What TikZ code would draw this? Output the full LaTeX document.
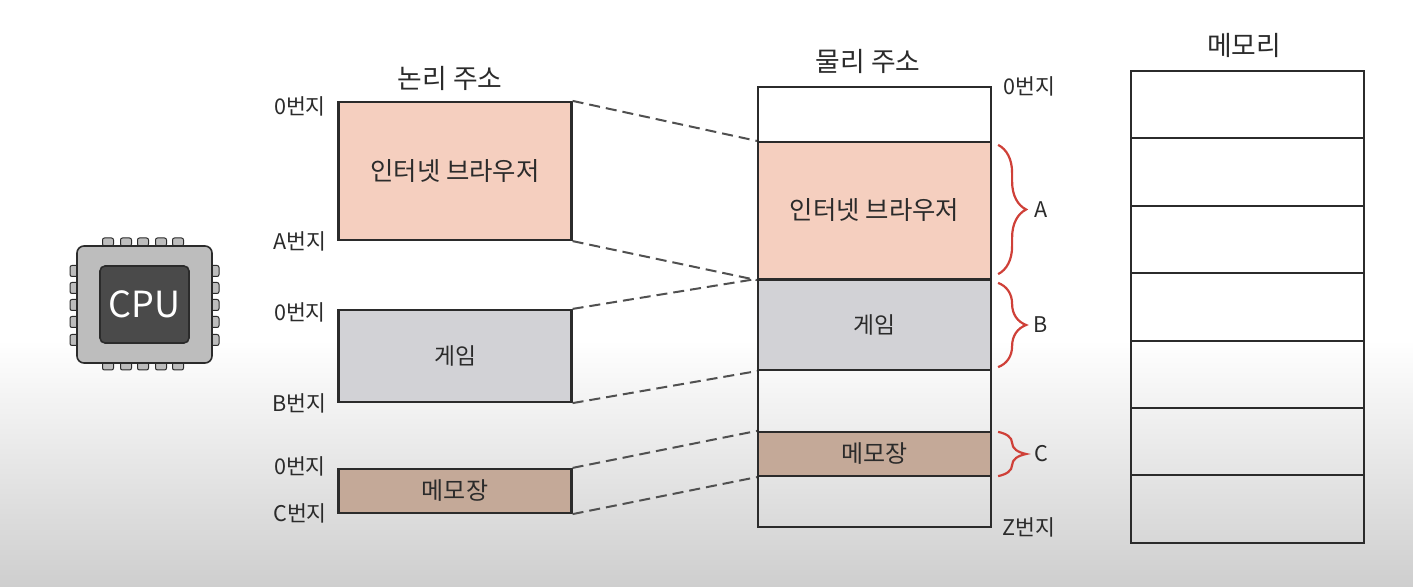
\documentclass[tikz,border=0pt]{standalone}
\usepackage{fontspec}
\setmainfont{Noto Sans CJK KR}
\usetikzlibrary{decorations.pathreplacing}
\definecolor{inkdark}{HTML}{2B2B2B}
\definecolor{dashgrey}{HTML}{505050}
\definecolor{browserpink}{HTML}{F5CFBF}
\definecolor{gamegrey}{HTML}{D2D2D6}
\definecolor{memobrown}{HTML}{C4A998}
\definecolor{bracered}{HTML}{CF4038}
\definecolor{cpugrey}{HTML}{BDBDBD}
\definecolor{cpudark}{HTML}{4A4A4A}
\definecolor{fadegrey}{HTML}{CECECE}
\tikzset{
  seg/.style={draw=inkdark,line width=1.1pt,minimum width=116.5pt,inner sep=0pt,font=\fontsize{11.4}{13}\selectfont,text=inkdark},
  longname/.style={font=\fontsize{12.7}{14}\selectfont},
  midname/.style={font=\fontsize{12}{14}\selectfont},
  cell/.style={draw=inkdark,line width=.65pt,minimum width=116.5pt,inner sep=0pt},
  addr/.style={font=\fontsize{10.8}{12}\selectfont,text=inkdark,inner sep=0pt},
  headline/.style={font=\fontsize{13.4}{15}\selectfont,text=inkdark,inner sep=0pt},
  link/.style={draw=dashgrey,line width=1pt,dash pattern=on 5.5pt off 3pt},
  curly/.style={draw=bracered,line width=1.1pt,decorate,decoration={brace,amplitude=14pt}},
  pin/.style={draw=inkdark,fill=cpugrey,line width=.5pt,rounded corners=1pt,inner sep=0pt},
}
\begin{document}
\begin{tikzpicture}[x=0.5pt,y=-0.5pt]
\useasboundingbox (0,0) rectangle (1413,587);
\fill[white] (0,0) rectangle (1413,340);
\shade[top color=white,bottom color=fadegrey] (0,340) rectangle (1413,587);
% cpu
\foreach \i/\c in {1/108,2/126,3/143,4/161,5/178} {
  \node[pin,minimum width=5.5pt,minimum height=4pt] (pintop\i) at (\c,242) {};
  \node[pin,minimum width=5.5pt,minimum height=4pt] (pinbot\i) at (\c,366) {};
}
\foreach \i/\c in {1/271,2/288,3/305,4/322,5/340} {
  \node[pin,minimum width=4pt,minimum height=5.5pt] (pinleft\i) at (74,\c) {};
  \node[pin,minimum width=4pt,minimum height=5.5pt] (pinright\i) at (215,\c) {};
}
\node[draw=inkdark,fill=cpugrey,line width=.8pt,rounded corners=3.5pt,minimum width=67.5pt,minimum height=58.5pt,inner sep=0pt] (cpubody) at (144.5,304.5) {};
\node[draw=inkdark,fill=cpudark,line width=.8pt,rounded corners=2.5pt,minimum width=44.5pt,minimum height=38.5pt,inner sep=0pt,text=white,font=\fontsize{18}{20}\selectfont] (cpucore) at (144.5,304.5) {CPU};
% logical address
\node[seg,longname,fill=browserpink,minimum height=69pt] (lbrowser) at (455,171) {인터넷 브라우저};
\node[seg,fill=gamegrey,minimum height=46pt] (lgame) at (455,356) {게임};
\node[seg,midname,fill=memobrown,minimum height=22pt] (lmemo) at (455,491) {메모장};
\node[headline] (ltitle) at (450,78) {논리 주소};
\node[addr] (ltop1) at (300,106) {0번지};
\node[addr] (lend1) at (300,241) {A번지};
\node[addr] (ltop2) at (300,312) {0번지};
\node[addr] (lend2) at (299,403) {B번지};
\node[addr] (ltop3) at (300,466) {0번지};
\node[addr] (lend3) at (300,513) {C번지};
% physical address
\node[cell,minimum height=220pt] (phys) at (874.5,307) {};
\node[seg,longname,fill=browserpink,minimum height=68.5pt] (pbrowser) at (874.5,210.5) {인터넷 브라우저};
\node[seg,fill=gamegrey,minimum height=45pt] (pgame) at (874.5,325) {게임};
\node[seg,midname,fill=memobrown,minimum height=22pt] (pmemo) at (874.5,454) {메모장};
\node[headline] (ptitle) at (868,61) {물리 주소};
\node[addr] (ptop) at (1029,86) {0번지};
\node[addr] (pend) at (1029,527) {Z번지};
% dashes
\draw[link] (lbrowser.north east) -- (pbrowser.north west);
\draw[link] (lbrowser.south east) -- (pbrowser.south west);
\draw[link] (lgame.north east) -- (pgame.north west);
\draw[link] (lgame.south east) -- (pgame.south west);
\draw[link] (lmemo.north east) -- (pmemo.north west);
\draw[link] (lmemo.south east) -- (pmemo.south west);
% braces
\draw[curly] ([shift={(6,4)}]pbrowser.north east) -- ([shift={(6,-6)}]pbrowser.south east);
\draw[curly] ([shift={(6,4)}]pgame.north east) -- ([shift={(6,-4)}]pgame.south east);
\draw[curly] ([shift={(6,1)}]pmemo.north east) -- ([shift={(6,-1)}]pmemo.south east);
\node[addr] (sizea) at (1041,210) {A};
\node[addr] (sizeb) at (1041,325) {B};
\node[addr] (sizec) at (1041,454) {C};
% memory
\node[headline] (mtitle) at (1244,45) {메모리};
\foreach \i/\c/\h in {1/104.5/33.5,2/172/34,3/239.5/33.5,4/307/34,5/374.5/33.5,6/441.5/33.5,7/509/34} {
  \node[cell,minimum height=\h pt] (mem\i) at (1247.5,\c) {};
}
\end{tikzpicture}
\end{document}
